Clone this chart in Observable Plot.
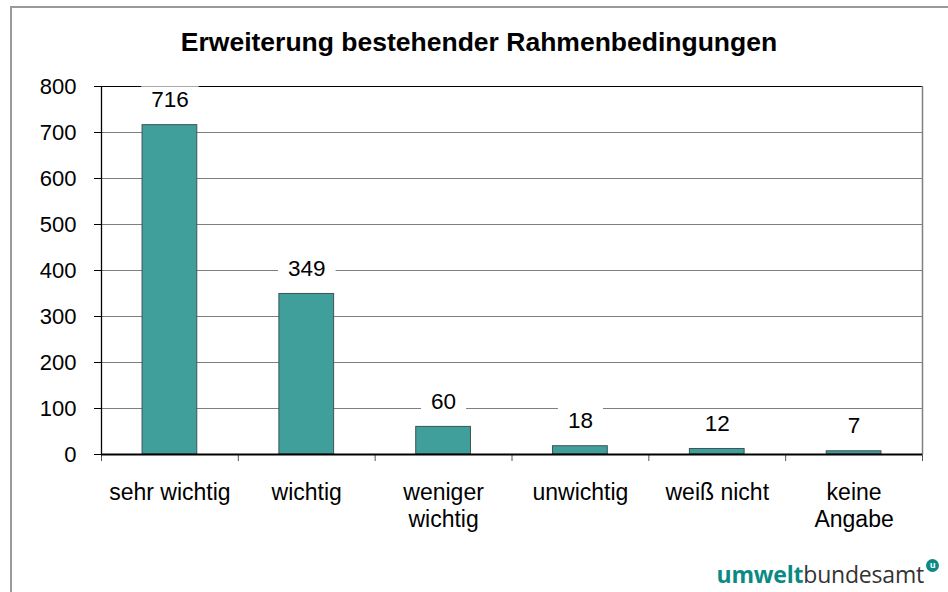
<!DOCTYPE html>
<html>
<head>
<meta charset="utf-8">
<script src="https://cdn.jsdelivr.net/npm/d3@7"></script>
<script src="https://cdn.jsdelivr.net/npm/@observablehq/plot@0.6"></script>
<style>
  html, body { margin: 0; padding: 0; background: #fff; }
  #wrap { position: relative; width: 948px; height: 592px; overflow: hidden; font-family: "Liberation Sans", Arial, sans-serif; }
  #frame { position: absolute; left: 10px; top: 6px; width: 1000px; height: 700px; border-left: 2px solid #9a9a9a; border-top: 2px solid #9a9a9a; box-sizing: border-box; }
  #chart { position: absolute; left: 0; top: 0; }
  #title { position: absolute; left: 0; width: 958px; top: 27px; text-align: center; font-weight: bold; font-size: 26.5px; letter-spacing: 0px; color: #000; }
  #logo { position: absolute; right: 24px; top: 558px; font-size: 23px; font-family: "Open Sans", "Liberation Sans", sans-serif; color: #333; letter-spacing: -0.2px; }
  #logo b { color: #0b8a83; font-weight: bold; }
  #logo .mark { position: absolute; right: -15px; top: 1px; width: 13px; height: 13px; border-radius: 50%; background: #0b8a83; color: #fff; font-size: 9px; line-height: 12px; text-align: center; font-weight: bold; }
</style>
</head>
<body>
<div id="wrap">
  <div id="frame"></div>
  <div id="chart"></div>
  <div id="title">Erweiterung bestehender Rahmenbedingungen</div>
  <div id="logo"><b>umwelt</b>bundesamt<span class="mark">u</span></div>
</div>
<script>
const categories = ["sehr wichtig", "wichtig", "weniger\nwichtig", "unwichtig", "weiß nicht", "keine\nAngabe"];
const values = [716, 349, 60, 18, 12, 7];
const yTicks = [0, 100, 200, 300, 400, 500, 600, 700, 800];

const data = categories.map((c, i) => ({cat: c, i, v: values[i]}));
const bandEdges = d3.range(0, categories.length + 1);
const centers = categories.map((c, i) => i + 0.5);

const plot = Plot.plot({
  width: 948,
  height: 592,
  marginLeft: 101,
  marginRight: 26,
  marginTop: 86,
  marginBottom: 138,
  style: {fontFamily: "Liberation Sans, Arial, sans-serif", background: "transparent", overflow: "visible"},
  x: {type: "linear", domain: [0, categories.length], axis: null},
  y: {domain: [0, 800], axis: null},
  marks: [
    Plot.gridY(yTicks.filter(d => d > 0 && d < 800), {stroke: "#7f7f7f", strokeOpacity: 1, strokeWidth: 1}),
    Plot.ruleY([800], {stroke: "#000", strokeWidth: 1}),
    Plot.ruleX([categories.length], {stroke: "#808080", strokeWidth: 1.5}),
    Plot.rectY(data, {x1: d => d.i + 0.3, x2: d => d.i + 0.7, y1: 0, y2: "v", fill: "#409f9b", stroke: "#3c5554", strokeWidth: 1}),
    Plot.axisY({ticks: yTicks, tickSize: 7, tickPadding: 18, fontSize: 22, stroke: "#000", fill: "#000", label: null}),
    Plot.ruleX([0], {stroke: "#000", strokeWidth: 1.3}),
    Plot.axisX({ticks: bandEdges, tickFormat: () => "", tickSize: 7, stroke: "#555", label: null}),
    Plot.axisX({ticks: centers, tickFormat: d => categories[Math.floor(d)], tickSize: 0, tickPadding: 26, fontSize: 23, lineHeight: 1.17, fill: "#000", label: null}),
    Plot.ruleY([0], {stroke: "#000", strokeWidth: 2.2}),
    Plot.text(data, {x: d => d.i + 0.5, y: "v", text: d => String(d.v), dy: -25, fontSize: 22.5, fill: "#000", className: "vlabel"})
  ]
});
document.getElementById("chart").appendChild(plot);

// white boxes behind the value labels (sized from the rendered text)
const svgNS = "http://www.w3.org/2000/svg";
plot.querySelectorAll("g.vlabel text").forEach(t => {
  const b = t.getBBox();
  const r = document.createElementNS(svgNS, "rect");
  r.setAttribute("x", b.x - 10);
  r.setAttribute("y", b.y - 1);
  r.setAttribute("width", b.width + 20);
  r.setAttribute("height", b.height + 2);
  r.setAttribute("fill", "#fff");
  const tr = t.getAttribute("transform");
  if (tr) r.setAttribute("transform", tr);
  t.parentNode.insertBefore(r, t);
});
</script>
</body>
</html>
